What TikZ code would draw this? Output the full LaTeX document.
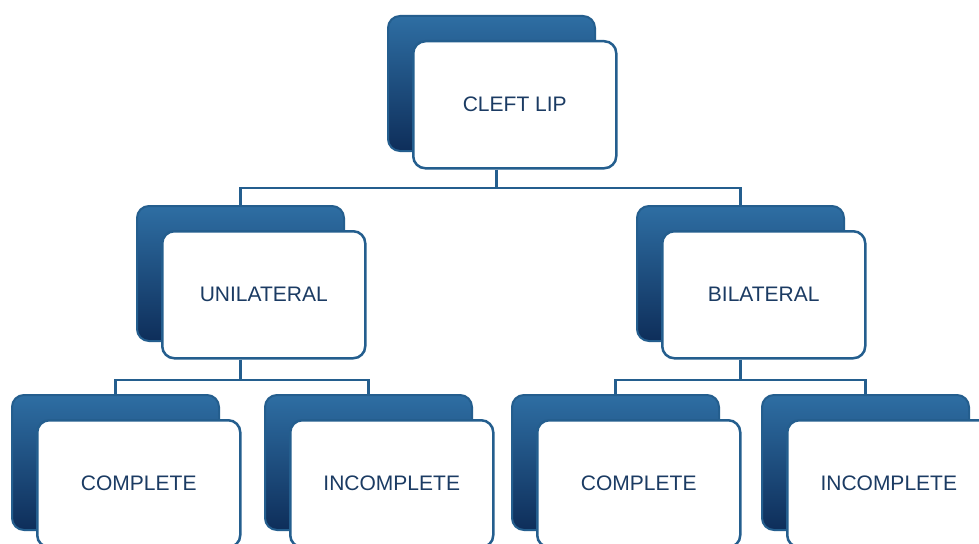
\documentclass[tikz,border=0pt]{standalone}
\usepackage{fontspec}
\setmainfont{Liberation Sans}
\definecolor{lipblue}{HTML}{2E6EA3}
\definecolor{lipdark}{HTML}{0E2E5A}
\definecolor{lipline}{HTML}{245E8E}
\definecolor{liptext}{HTML}{1B3B63}
\tikzset{
  backbox/.style={draw=lipline, line width=2pt, rounded corners=12pt,
    top color=lipblue, bottom color=lipdark, anchor=north west,
    minimum width=207pt, minimum height=135pt, inner sep=0pt},
  frontbox/.style={draw=lipline, line width=2.5pt, rounded corners=12pt,
    fill=white, anchor=north west, text=liptext, font=\fontsize{21}{25}\selectfont,
    minimum width=203pt, minimum height=127pt, inner sep=0pt},
  link/.style={draw=lipline, line width=2.5pt}
}
% name, left, top, text
\newcommand\lipcard[4]{%
  \node[backbox] (#1-b) at (#2,#3) {};
  \node[frontbox] (#1) at (#2+25,#3+25) {#4};
}
\begin{document}
\begin{tikzpicture}[x=1pt,y=-1pt]
  \useasboundingbox (0,0) rectangle (979,543);
  \clip (0,0) rectangle (979,543);
  \fill[white] (0,0) rectangle (979,543);
  \lipcard{cleft}{387}{15}{CLEFT LIP}
  \lipcard{uni}{136}{205}{UNILATERAL}
  \lipcard{bi}{636}{205}{BILATERAL}
  \lipcard{ucomp}{11}{394}{COMPLETE}
  \lipcard{uinc}{264}{394}{INCOMPLETE}
  \lipcard{bcomp}{511}{394}{COMPLETE}
  \lipcard{binc}{761}{394}{INCOMPLETE}
  % level 1 to 2
  \draw[link] ([xshift=5pt]cleft-b.south |- cleft.south) -- ++(0,19);
  \draw[link] (uni-b.north) -- ++(0,-17) -| (bi-b.north);
  % level 2 to 3
  \draw[link] (uni.south -| uni-b.south) -- ++(0,20);
  \draw[link] (ucomp-b.north) -- ++(0,-14) -| (uinc-b.north);
  \draw[link] (bi.south -| bi-b.south) -- ++(0,20);
  \draw[link] (bcomp-b.north) -- ++(0,-14) -| (binc-b.north);
\end{tikzpicture}
\end{document}
